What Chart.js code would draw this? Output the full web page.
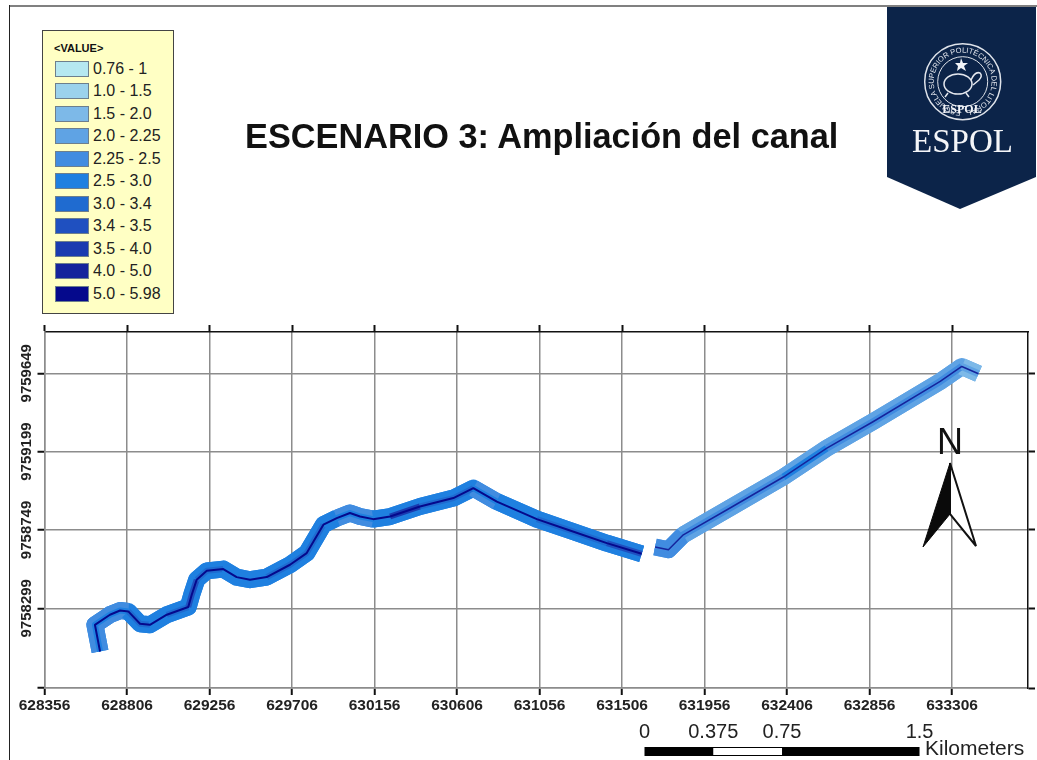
<!DOCTYPE html>
<html lang="es">
<head>
<meta charset="utf-8">
<title>ESCENARIO 3: Ampliación del canal</title>
<script src="https://cdn.jsdelivr.net/npm/chart.js@4"></script>
<style>
    html, body { margin: 0; padding: 0; background: #fff; }
    #page { position: relative; width: 1037px; height: 760px; overflow: hidden; font-family: "Liberation Sans", Arial, sans-serif; }
    #chart { position: absolute; left: 0; top: 0; }
    #frame-top { position: absolute; left: 9px; right: 0; top: 5px; height: 2px; background: #808080; }
    #frame-left { position: absolute; left: 9px; top: 5px; bottom: 0; width: 1px; background: #222; }
    #titulo { position: absolute; left: 245px; top: 116px; font-weight: bold; font-size: 34.3px; line-height: 40px; color: #111; white-space: nowrap; }
    #leyenda { position: absolute; left: 42px; top: 30px; width: 130px; height: 282px; background: #ffffc4; border: 1px solid #444; }
    #leyenda .head { position: absolute; left: 11px; top: 12px; font-size: 11px; font-weight: bold; line-height: 10px; color: #111; }
    #leyenda .fila { position: absolute; left: 12px; height: 16px; display: flex; align-items: center; font-size: 16px; color: #222; }
    #leyenda .caja { width: 32px; height: 14px; border: 1px solid #6d7f8c; margin-right: 4px; }
    svg.over { position: absolute; left: 0; top: 0; pointer-events: none; }
</style>
</head>
<body>
<div id="page">
    <canvas id="chart" width="1037" height="760"></canvas>
    <div id="frame-top"></div>
    <div id="frame-left"></div>
    <div id="titulo">ESCENARIO 3: Ampliación del canal</div>
    <div id="leyenda"><div class="head">&lt;VALUE&gt;</div></div>
    <svg class="over" width="1037" height="760" xmlns="http://www.w3.org/2000/svg">
        <defs><path id="sello" d="M962.7 110.7a29 29 0 1 1 0.01 0"/></defs>
        <!-- logo -->
        <polygon points="887,7 1036,7 1036,177 960,209 887,177" fill="#0c2449"/>
        <circle cx="962.7" cy="81.7" r="38" fill="none" stroke="#dfe3ea" stroke-width="1.5"/>
        <circle cx="962.7" cy="81.7" r="25" fill="none" stroke="#dfe3ea" stroke-width="1"/>
        <text font-family="Liberation Sans" font-size="7.5" fill="#e4e7ee" textLength="176"><textPath href="#sello" startOffset="1%">ESCUELA SUPERIOR POLITÉCNICA DEL LITORAL</textPath></text>
        <polygon points="961,58 963,63 968,63 964,66 966,71 961,68 957,71 958,66 955,63 960,63" fill="#f2f4f8"/>
        <ellipse cx="958" cy="84" rx="14" ry="10" fill="none" stroke="#e4e7ee" stroke-width="1.5"/>
        <path d="M971 80q4-9 9-7 3 3-1 7l-6 5M948 93l-3 4M966 93l3 4" fill="none" stroke="#e4e7ee" stroke-width="1.5"/>
        <text x="962" y="113" font-family="Liberation Serif" font-weight="bold" font-size="12" fill="#f2f4f8" text-anchor="middle">ESPOL</text>
        <text x="962.5" y="152" font-family="Liberation Serif" font-size="33" fill="#f4f5f8" text-anchor="middle">ESPOL</text>
        <!-- norte -->
        <text x="950" y="454" font-family="Liberation Sans" font-size="36" fill="#111" text-anchor="middle">N</text>
        <polygon points="950,463 976,546 950,514" fill="#fff" stroke="#111" stroke-width="2"/>
        <polygon points="950,463 923,547 950,514" fill="#0a0a0a" stroke="#0a0a0a" stroke-width="1"/>
    </svg>
</div>
<script>
// Clases de la leyenda
const categorias = ["0.76 - 1", "1.0 - 1.5", "1.5 - 2.0", "2.0 - 2.25", "2.25 - 2.5", "2.5 - 3.0", "3.0 - 3.4", "3.4 - 3.5", "3.5 - 4.0", "4.0 - 5.0", "5.0 - 5.98"];
const coloresClase = ["#b5e8f0", "#9bd2ec", "#7db9e8", "#5fa3e4", "#418ce0", "#1f80e0", "#1f6bd0", "#1f50c0", "#1a3bb0", "#15249c", "#05098c"];

// Ejes (coordenadas UTM)
const ticksX = [628356, 628806, 629256, 629706, 630156, 630606, 631056, 631506, 631956, 632406, 632856, 633306];
const ticksY = [9757841, 9758299, 9758749, 9759199, 9759649];
const etiquetasY = [9758299, 9758749, 9759199, 9759649];

// Tramo oeste del canal
const oesteX = [628659, 628631, 628713, 628768, 628813, 628877, 628931, 629023, 629140, 629159, 629186, 629241, 629331, 629404, 629477, 629568, 629695, 629786, 629877, 629950, 630022, 630077, 630149, 630241, 630404, 630586, 630695, 630823, 631041, 631222, 631423, 631613];
const oesteY = [9758051, 9758204, 9758262, 9758286, 9758281, 9758210, 9758204, 9758262, 9758306, 9758377, 9758463, 9758514, 9758524, 9758478, 9758463, 9758478, 9758549, 9758616, 9758779, 9758817, 9758846, 9758826, 9758811, 9758826, 9758884, 9758932, 9758989, 9758912, 9758811, 9758746, 9758673, 9758612];
// clase por segmento: borde exterior e interior
const oesteBanda = [4, 4, 4, 4, 5, 5, 5, 5, 5, 5, 5, 5, 5, 5, 5, 5, 5, 5, 5, 4, 4, 4, 5, 5, 5, 5, 4, 5, 5, 5, 5];
const oesteInterior = [5, 5, 5, 5, 6, 6, 5, 6, 7, 7, 6, 6, 5, 5, 5, 6, 6, 6, 5, 5, 5, 5, 5, 8, 6, 6, 5, 5, 6, 6, 7];

// Tramo este del canal
const esteX = [631686, 631759, 631840, 632095, 632386, 632623, 632877, 633241, 633359, 633450];
const esteY = [9758651, 9758635, 9758721, 9758875, 9759053, 9759219, 9759372, 9759602, 9759688, 9759646];
const esteBanda = [4, 4, 3, 3, 3, 3, 3, 3, 2];
const esteInterior = [4, 4, 4, 4, 5, 4, 4, 4, 3];

// Barra de escala
const escalaKm = [0, 0.375, 0.75, 1.5];
const escalaEtiquetas = ["0", "0.375", "0.75", "1.5"];

const leyenda = document.getElementById("leyenda");
categorias.forEach((nombre, i) => {
    const fila = document.createElement("div");
    fila.className = "fila";
    fila.style.top = (29.7 + i * 22.5) + "px";
    fila.innerHTML = '<span class="caja" style="background:' + coloresClase[i] + '"></span>' + nombre;
    leyenda.appendChild(fila);
});

function capa(xs, ys, clases, ancho, orden, etiqueta) {
    return {
        label: etiqueta,
        data: xs.map((x, i) => ({ x: x, y: ys[i] })),
        borderWidth: ancho,
        borderColor: coloresClase[clases[0]],
        segment: { borderColor: ctx => coloresClase[clases[ctx.p0DataIndex]] },
        borderJoinStyle: "round",
        borderCapStyle: "butt",
        pointRadius: 0,
        tension: 0,
        order: orden
    };
}

function ticksFijos(valores) {
    return scale => { scale.ticks = valores.map(v => ({ value: v })); };
}

const lineaOeste = oesteBanda.map(() => 10);
const lineaEste = esteBanda.map(() => 9);
// capa de fondo de un solo color: tapa las muescas entre segmentos
const fondoOeste = oesteBanda.map(() => 5);
const fondoEste = esteBanda.map(() => 3);

// Etiquetas Y giradas y barra de escala
const extras = {
    id: "extras",
    afterDraw(chart) {
        const ctx = chart.ctx;
        const sx = chart.scales.x;
        const sy = chart.scales.y;
        ctx.save();
        ctx.fillStyle = "#222";
        ctx.font = "bold 15px 'Liberation Sans'";
        ctx.textAlign = "center";
        ctx.textBaseline = "middle";
        etiquetasY.forEach(v => {
            ctx.save();
            ctx.translate(27, sy.getPixelForValue(v));
            ctx.rotate(-Math.PI / 2);
            ctx.fillText(String(v), 0, 0);
            ctx.restore();
        });

        const x0 = 644.5;
        const origen = sx.getValueForPixel(x0);
        const pos = escalaKm.map(km => sx.getPixelForValue(origen + km * 1000));
        ctx.fillStyle = "#000";
        ctx.fillRect(pos[0], 747, pos[3] - pos[0], 9);
        ctx.fillStyle = "#fff";
        ctx.fillRect(pos[1], 748, pos[2] - pos[1], 7);
        ctx.fillStyle = "#222";
        ctx.font = "20px 'Liberation Sans'";
        escalaEtiquetas.forEach((t, i) => ctx.fillText(t, pos[i], 732));
        ctx.font = "21px 'Liberation Sans'";
        ctx.textAlign = "left";
        ctx.fillText("Kilometers", 925, 749);
        ctx.restore();
    }
};

new Chart(document.getElementById("chart").getContext("2d"), {
    type: "line",
    data: {
        datasets: [
            capa(oesteX, oesteY, lineaOeste, 2, 0, "Oeste eje"),
            capa(oesteX, oesteY, oesteInterior, 6, 1, "Oeste interior"),
            capa(oesteX, oesteY, oesteBanda, 17, 2, "Oeste banda"),
            capa(oesteX, oesteY, fondoOeste, 17, 3, "Oeste fondo"),
            capa(esteX, esteY, lineaEste, 1.5, 0, "Este eje"),
            capa(esteX, esteY, esteInterior, 7, 1, "Este interior"),
            capa(esteX, esteY, esteBanda, 17, 2, "Este banda"),
            capa(esteX, esteY, fondoEste, 17, 3, "Este fondo")
        ]
    },
    plugins: [extras],
    options: {
        responsive: false,
        animation: false,
        parsing: false,
        layout: { padding: 0 },
        plugins: { legend: { display: false }, tooltip: { enabled: false }, title: { display: false } },
        scales: {
            x: {
                type: "linear",
                position: "bottom",
                min: 628356,
                max: 633720,
                afterBuildTicks: ticksFijos(ticksX),
                afterFit: scale => { scale.height = 72; },
                grid: { color: "#8c8c8c", lineWidth: 1.5, tickColor: "#111", tickLength: 7, tickWidth: 2 },
                border: { color: "#8c8c8c", width: 1.5 },
                ticks: {
                    autoSkip: false,
                    maxRotation: 0,
                    padding: 1,
                    color: "#222",
                    font: { family: "Liberation Sans", size: 15.5, weight: "bold" },
                    callback: v => String(v)
                }
            },
            x2: {
                type: "linear",
                position: "top",
                min: 628356,
                max: 633720,
                afterBuildTicks: ticksFijos(ticksX),
                afterFit: scale => { scale.height = 332; },
                grid: { drawOnChartArea: false, tickColor: "#111", tickLength: 7, tickWidth: 2 },
                border: { color: "#111", width: 1.5 },
                ticks: { display: false }
            },
            y: {
                type: "linear",
                position: "left",
                min: 9757841,
                max: 9759886,
                afterBuildTicks: ticksFijos(ticksY),
                afterFit: scale => { scale.width = 44.5; },
                grid: { color: "#8c8c8c", lineWidth: 1.5, tickColor: "#111", tickLength: 7, tickWidth: 2 },
                border: { color: "#8c8c8c", width: 1.5 },
                ticks: { display: false }
            },
            y2: {
                type: "linear",
                position: "right",
                min: 9757841,
                max: 9759886,
                afterBuildTicks: ticksFijos(ticksY),
                afterFit: scale => { scale.width = 9; },
                grid: { drawOnChartArea: false, tickColor: "#111", tickLength: 7, tickWidth: 2 },
                border: { color: "#111", width: 1.5 },
                ticks: { display: false }
            }
        }
    }
});
</script>
</body>
</html>
